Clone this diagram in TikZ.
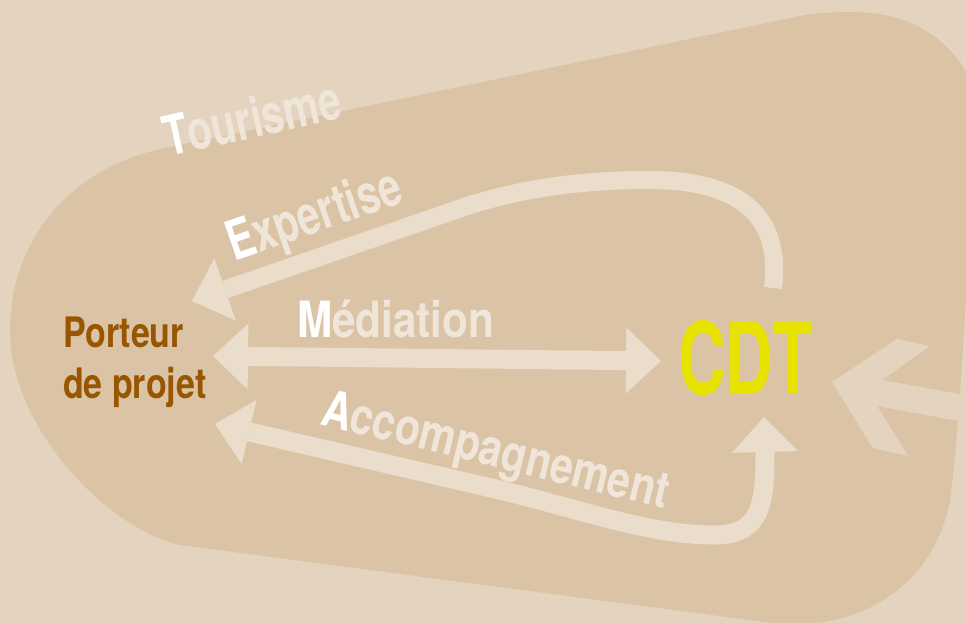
\documentclass[tikz,border=0pt]{standalone}
\usepackage{fontspec}
\setmainfont{TeX Gyre Heros}
\usetikzlibrary{arrows.meta}
\definecolor{bgc}{HTML}{E4D4BF}
\definecolor{blobc}{HTML}{DBC4A6}
\definecolor{arrc}{HTML}{EADDCC}
\definecolor{txtc}{HTML}{EFE5D9}
\definecolor{porc}{HTML}{985600}
\definecolor{cdtc}{HTML}{E8E200}
\newcommand\lab[4]{\scalebox{#2}[1]{\fontsize{#1}{#1}\selectfont\bfseries\textcolor{white}{#3}\textcolor{txtc}{#4}}}
\newcommand\plain[3]{\scalebox{#2}[1]{\fontsize{#1}{#1}\selectfont\bfseries #3}}
\begin{document}
\begin{tikzpicture}[x=1pt,y=-1pt,
  lbl/.style={anchor=base west, inner sep=0pt, outer sep=0pt},
  band/.style={draw=arrc, line width=19pt, line join=round},
  >={Triangle[length=35pt,width=66pt,line width=0pt]}]
\useasboundingbox (0,0) rectangle (966,623);
\clip (0,0) rectangle (966,623);
\fill[bgc] (0,0) rectangle (966,623);
% blob
\fill[blobc] (180,545) -- (780,624) .. controls (860,630) and (935,585) .. (950,500)
  .. controls (958,440) and (962,360) .. (966,300) -- (975,300) -- (975,72) -- (966,72)
  .. controls (945,35) and (905,12) .. (853,12) .. controls (830,12) and (815,13) .. (800,16)
  -- (165,148) .. controls (60,170) and (10,250) .. (10,330)
  .. controls (10,430) and (110,530) .. (180,545) -- cycle;
% incoming arrow from the right
\fill[bgc] (832,382) -- (897,339) -- (930,346) -- (882,380) -- (975,397) -- (975,424)
  -- (877,406) -- (908,456) -- (873,448) -- cycle;
% coordinates
\coordinate (expS) at (773,288);
\coordinate (expT) at (192,301);
\coordinate (medL) at (213,356);
\coordinate (medR) at (661,361);
\coordinate (accL) at (215,424);
\coordinate (accR) at (764,417);
% Expertise arrow
\draw[band, line width=18pt, ->] (expS) .. controls (782,215) and (740,178) .. (640,180)
  .. controls (570,181) and (520,190) .. (470,205) -- (expT);
% Mediation arrow
\draw[band, <->] (medL) -- (medR);
% Accompagnement arrow
\draw[band, <->] (accL) -- (500,490) .. controls (590,512) and (650,535) .. (715,535)
  .. controls (760,535) and (765,505) .. (765,455) -- (accR);
% labels
\node[lbl, rotate=12.5] (tour) at (168,157) {\lab{55}{0.73}{T}{ourisme}};
\node[lbl, rotate=19] (expe) at (234,261) {\lab{55}{0.73}{E}{xpertise}};
\node[lbl] (medi) at (297,337) {\lab{50}{0.845}{M}{édiation}};
\node[lbl, rotate=-13.8] (acco) at (319,424) {\lab{51}{0.805}{A}{ccompagnement}};
\node[lbl, text=porc] (port1) at (63,347) {\plain{42}{0.81}{Porteur}};
\node[lbl, text=porc] (port2) at (63,398) {\plain{42}{0.81}{de projet}};
\node[lbl, text=cdtc] (cdt) at (678,394) {\plain{100}{0.66}{CDT}};
\end{tikzpicture}
\end{document}
